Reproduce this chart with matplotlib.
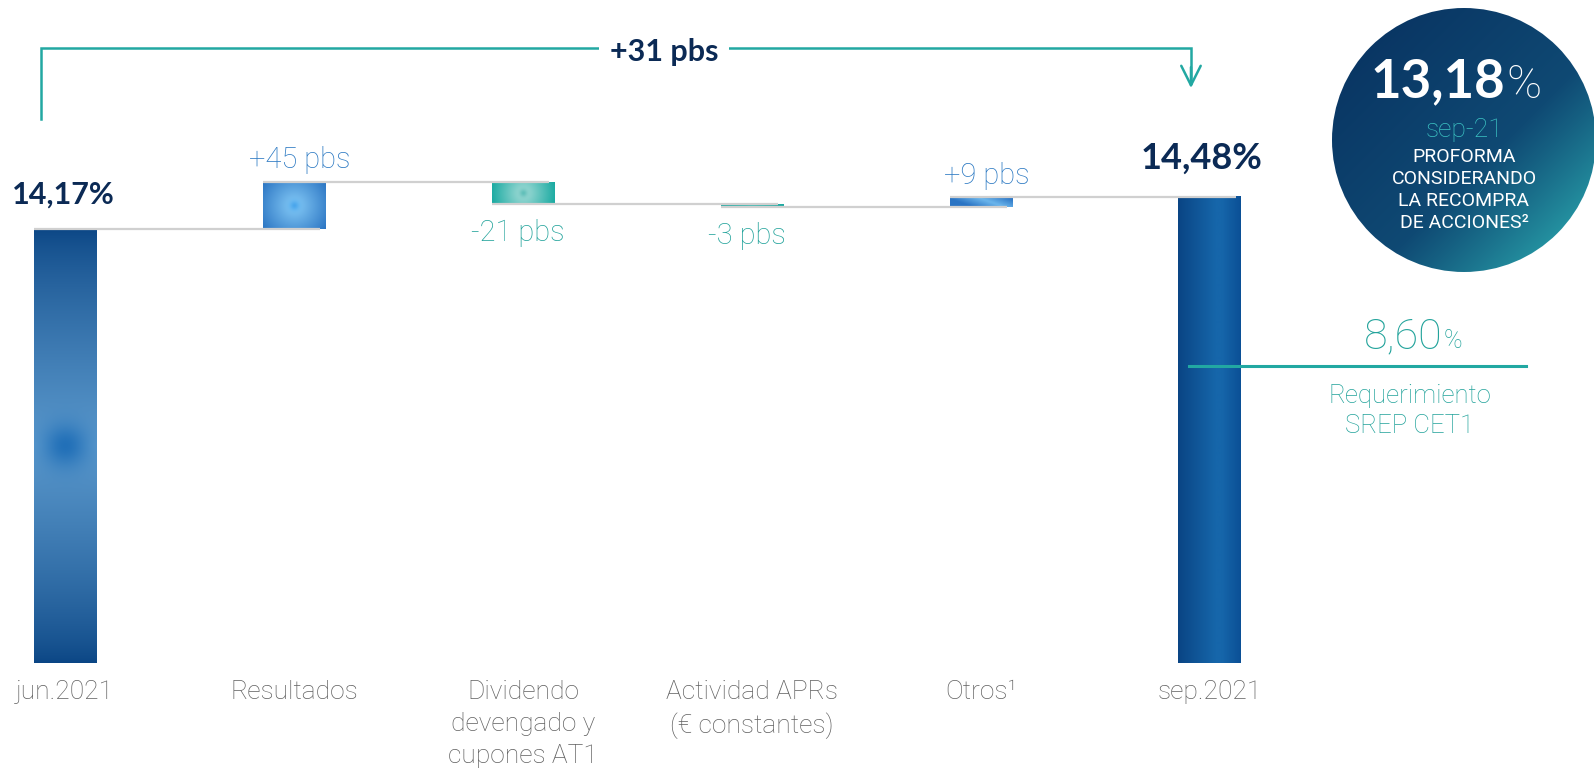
import matplotlib
matplotlib.use("Agg")
import matplotlib.pyplot as plt
import numpy as np
from matplotlib.colors import to_rgb
from matplotlib.patches import Circle

# data
categories = ["jun.2021", "Resultados", "Dividendo\ndevengado y\ncupones AT1",
              "Actividad APRs\n(€ constantes)", "Otros¹", "sep.2021"]
start_value = 14.17
end_value = 14.48
deltas_pbs = [45, -21, -3, 9]
proforma_value = 13.18
proforma_lines = ["PROFORMA", "CONSIDERANDO", "LA RECOMPRA", "DE ACCIONES²"]
srep_value = 8.60
srep_label = "Requerimiento\nSREP CET1"

W, H = 1594, 770
BASE = 10.0          # truncated axis, bars start here
BAR_W = 0.275

FONT = ['Lato', 'DejaVu Sans']
THIN = ['Roboto', 'Lato', 'DejaVu Sans']
NAVY = '#0b2a55'
BLUE = '#2a78c2'
TEAL = '#22a39b'
TEAL_LINE = '#22a8a2'
GREY_TXT = '#606060'
GREY_LINE = '#d0d0d0'


def pct(v):
    return f"{v:.2f}".replace('.', ',') + '%'


def pbs(d):
    return f"{d:+d} pbs"


def mix(c1, c2, t):
    c1 = np.array(to_rgb(c1)) if isinstance(c1, str) else c1
    c2 = np.array(to_rgb(c2)) if isinstance(c2, str) else c2
    t = np.clip(t, 0, 1)[..., None]
    return c1 * (1 - t) + c2 * t


fig = plt.figure(figsize=(W / 100, H / 100), dpi=100)
ax = fig.add_axes([0, 0, 1, 1])
ax.axis('off')
ax.set_xlim(-0.284, 6.677)
ax.set_ylim(8.975, 16.365)
ax.set_autoscale_on(False)

# waterfall geometry
levels = [start_value]
for d in deltas_pbs:
    levels.append(levels[-1] + d / 100)
bottoms = [BASE] + [min(levels[i], levels[i + 1]) for i in range(len(deltas_pbs))] + [BASE]
heights = [start_value - BASE] + [abs(d) / 100 for d in deltas_pbs] + [end_value - BASE]
xs = np.arange(len(categories))

bars = ax.bar(xs, heights, bottom=bottoms, width=BAR_W, color='none', zorder=2)


def px_size(rect):
    p0 = ax.transData.transform((rect.get_x(), rect.get_y()))
    p1 = ax.transData.transform((rect.get_x() + rect.get_width(), rect.get_y() + rect.get_height()))
    return max(int(abs(p1[0] - p0[0])), 2), max(int(abs(p1[1] - p0[1])), 2)


def paint(rect, img):
    x0, y0 = rect.get_x(), rect.get_y()
    im = ax.imshow(img, extent=(x0, x0 + rect.get_width(), y0, y0 + rect.get_height()),
                   origin='lower', aspect='auto', interpolation='bilinear', zorder=2)
    im.set_clip_path(rect)


def radial_img(rect, inner, outer, spot, spot_r):
    nx, ny = px_size(rect)
    X, Y = np.meshgrid(np.arange(nx) - (nx - 1) / 2, np.arange(ny) - (ny - 1) / 2)
    r = np.hypot(X, Y)
    img = mix(inner, outer, r / np.hypot(nx / 2, ny / 2))
    return mix(img, np.array(to_rgb(spot)), np.exp(-(r / spot_r) ** 2))


# jun.2021: dark ends, lighter middle with a darker spot
r0 = bars[0]
nx, ny = px_size(r0)
X, Y = np.meshgrid(np.arange(nx) - (nx - 1) / 2, np.arange(ny) - (ny - 1) / 2)
t = 1 - np.abs(Y) / (ny / 2)
img = mix('#0a4584', '#5a98cc', t ** 0.75)
img = mix(img, np.array(to_rgb('#1c6cb6')), 0.9 * np.exp(-(np.hypot(X, Y) / 22) ** 2))
paint(r0, img)

paint(bars[1], radial_img(bars[1], '#86ccf8', '#2a74c2', '#4aa6ec', 5))
paint(bars[2], radial_img(bars[2], '#a8ddd9', '#16a9a0', '#5fbfb9', 4))
paint(bars[3], radial_img(bars[3], '#40bab2', '#1ea9a1', '#40bab2', 3))

nx, ny = px_size(bars[4])
X, Y = np.meshgrid(np.linspace(0, 1, nx), np.linspace(0, 1, ny))
img = mix('#2a74c4', '#6cb6ec', np.clip(1 - np.abs((X + 0.4 * Y) - 0.85) / 0.5, 0, 1))
paint(bars[4], img)

nx, ny = px_size(bars[5])
X, Y = np.meshgrid(np.linspace(0, 1, nx), np.linspace(0, 1, ny))
img = mix('#0a4584', '#1666aa', np.clip(X / 0.6, 0, 1))
img = mix(img, np.array(to_rgb('#0b5096')), np.clip((X - 0.7) / 0.3, 0, 1))
paint(bars[5], img)

# connectors
for i in range(len(xs) - 1):
    lvl = levels[i] if i < len(levels) else levels[-1]
    ax.plot([xs[i] - BAR_W / 2, xs[i + 1] + BAR_W / 2 - 0.025], [lvl, lvl],
            color=GREY_LINE, lw=1.6, zorder=3, solid_capstyle='butt')

# value labels
ax.annotate(pct(start_value), (xs[0], start_value), xytext=(-1, 18), textcoords='offset points',
            ha='center', va='baseline', fontsize=22, fontweight='bold', color=NAVY, family=FONT)
ax.annotate(pct(end_value), (xs[-1], end_value), xytext=(-6, 20), textcoords='offset points',
            ha='center', va='baseline', fontsize=26, fontweight='bold', color=NAVY, family=FONT)

for i, d in enumerate(deltas_pbs):
    x = xs[i + 1]
    if d > 0:
        ax.annotate(pbs(d), (x, levels[i + 1]), xytext=(4, 10), textcoords='offset points',
                    ha='center', va='baseline', fontsize=21, fontweight='light', color=BLUE, family=THIN)
    else:
        ax.annotate(pbs(d), (x, levels[i + 1]), xytext=(-4, -27), textcoords='offset points',
                    ha='center', va='baseline', fontsize=21, fontweight='light', color=TEAL, family=THIN)

# category labels
for x, cat in zip(xs, categories):
    ax.text(x, 9.84, cat, ha='center', va='top', fontsize=19, fontweight='light',
            color=GREY_TXT, family=THIN, linespacing=1.42)

# bracket with total change
x_left, x_right = xs[0] - 0.105, xs[-1] - 0.083
y_top, y_low, y_tip = 15.904, 15.223, 15.52
ax.plot([x_left, x_left, x_right, x_right], [y_low, y_top, y_top, y_tip + 0.05],
        color=TEAL_LINE, lw=1.8, zorder=3, solid_joinstyle='miter')
ax.annotate('', xy=(x_right, y_tip), xytext=(x_right, y_tip + 0.2),
            arrowprops=dict(arrowstyle='->,head_length=0.7,head_width=0.35', color=TEAL_LINE,
                            lw=1.8, shrinkA=0, shrinkB=0, mutation_scale=20), zorder=3)
total = round((end_value - start_value) * 100)
ax.text(2.616, y_top - 0.04, pbs(total), ha='center', va='center', fontsize=22, fontweight='bold',
        color=NAVY, family=FONT, zorder=4,
        bbox=dict(boxstyle='square,pad=0.35', fc='white', ec='none'))

# proforma circle
cx, cy, rad = 1464, 140, 132
cax = fig.add_axes([(cx - rad) / W, 1 - (cy + rad) / H, 2 * rad / W, 2 * rad / H])
cax.axis('off')
cax.set_xlim(-1, 1)
cax.set_ylim(-1, 1)
X, Y = np.meshgrid(np.linspace(-1, 1, 300), np.linspace(-1, 1, 300))
s = (X - Y + 2) / 4
img = mix('#08305f', '#0f4a74', np.clip(s / 0.6, 0, 1))
img = mix(img, np.array(to_rgb('#2aa6ad')), np.clip((s - 0.58) / 0.35, 0, 1) ** 1.1)
circ = Circle((0, 0), 1, transform=cax.transData, fc='none', ec='none')
cax.add_patch(circ)
im = cax.imshow(img, extent=(-1, 1, -1, 1), origin='lower', interpolation='bilinear')
im.set_clip_path(circ)

big = f"{proforma_value:.2f}".replace('.', ',')
cax.text(0.31, 0.32, big, ha='right', va='baseline', fontsize=38, fontweight='bold',
         color='white', family=FONT)
cax.text(0.32, 0.32, '%', ha='left', va='baseline', fontsize=34, fontweight='light',
         color='white', family=THIN)
cax.text(0, 0.025, 'sep-21', ha='center', va='baseline', fontsize=19, fontweight='light',
         color='#3cc4c4', family=THIN)
for k, line in enumerate(proforma_lines):
    cax.text(0, -0.167 - 0.167 * k, line, ha='center', va='baseline', fontsize=14,
             color='white', family=THIN)

# SREP requirement


def P(x, y):
    return (x / W, 1 - y / H)


srep = f"{srep_value:.2f}".replace('.', ',')
fig.text(*P(1442, 348), srep, ha='right', va='baseline', fontsize=31, fontweight='light',
         color=TEAL, family=THIN)
fig.text(*P(1444, 348), '%', ha='left', va='baseline', fontsize=18, fontweight='light',
         color=TEAL, family=THIN)
fig.add_artist(plt.Line2D([1189 / W, 1526 / W], [1 - 366 / H, 1 - 366 / H],
                          color=TEAL_LINE, lw=2.2, transform=fig.transFigure))
fig.text(*P(1410, 384), srep_label, ha='center', va='top', fontsize=18.5, fontweight='light',
         color=TEAL, family=THIN, linespacing=1.3)

fig.savefig('out.png', dpi=100)
